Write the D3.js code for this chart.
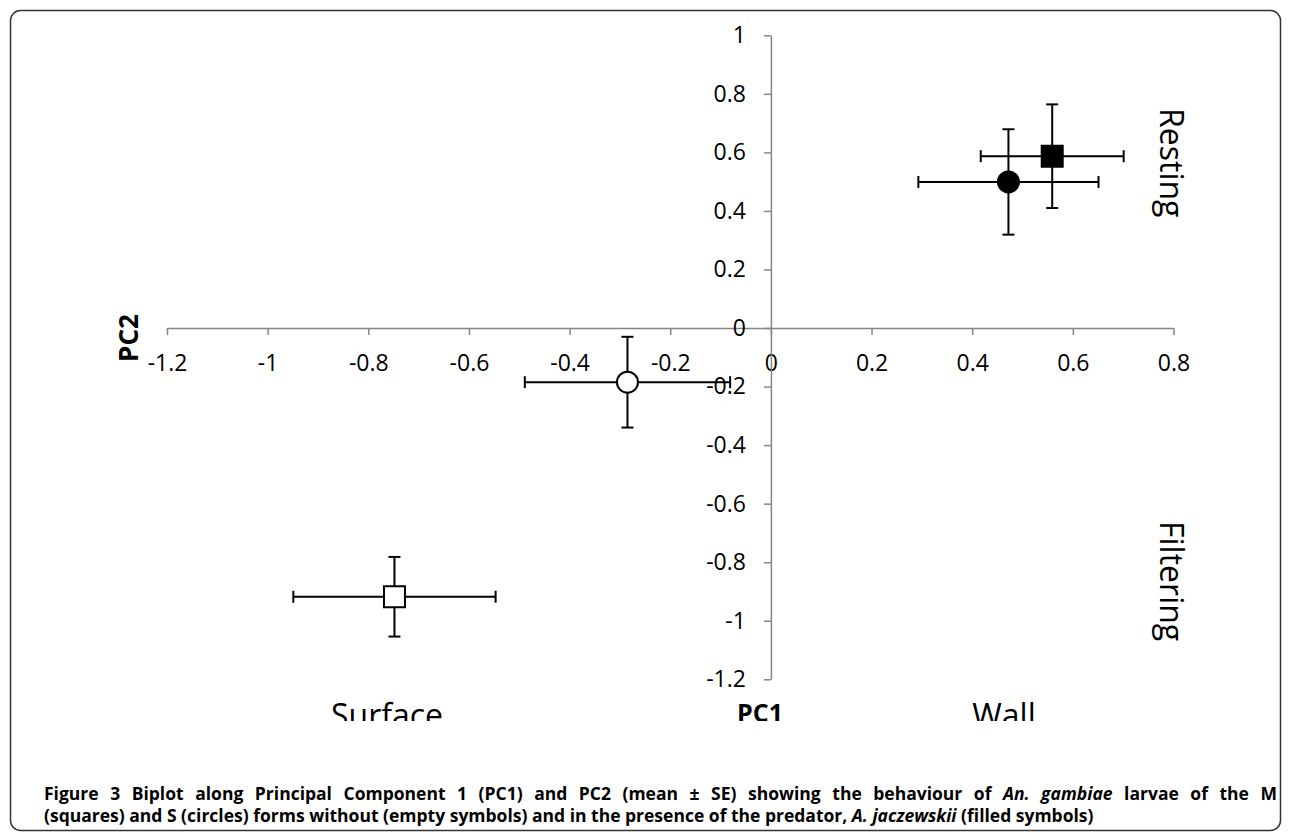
<!DOCTYPE html>
<html>
<head>
<meta charset="utf-8">
<script src="https://cdn.jsdelivr.net/npm/d3@7"></script>
<style>
  body { margin: 0; background: #fff; }
  svg { display: block; }
  text { font-family: 'Open Sans', 'Liberation Sans', sans-serif; fill: #000; }
</style>
</head>
<body>
<svg id="chart" width="1290" height="832"></svg>
<script>
// four groups: M / S form, without and with the predator
const groups = ['M control', 'S control', 'M predator', 'S predator'];
const shapes = ['square', 'circle', 'square', 'circle'];
const filled = [false, false, true, true];
const pc1 = [-0.748, -0.285, 0.559, 0.472];
const pc2 = [-0.918, -0.185, 0.587, 0.499];
const pc1Se = [0.201, 0.204, 0.142, 0.179];
const pc2Se = [0.136, 0.155, 0.177, 0.180];

const xTicks = [-1.2, -1, -0.8, -0.6, -0.4, -0.2, 0, 0.2, 0.4, 0.6, 0.8];
const yTicks = [-1.2, -1, -0.8, -0.6, -0.4, -0.2, 0, 0.2, 0.4, 0.6, 0.8, 1];

const captionLine1 = [
  ['Figure 3 Biplot along Principal Component 1 (PC1) and PC2 (mean \u00b1 SE) showing the behaviour of ', 'normal'],
  ['An. gambiae', 'italic'],
  [' larvae of the M', 'normal'],
];
const captionLine2 = [
  ['(squares) and S (circles) forms without (empty symbols) and in the presence of the predator, ', 'normal'],
  ['A. jaczewskii', 'italic'],
  [' (filled symbols)', 'normal'],
];

const AXIS_GRAY = '#868686';
const svg = d3.select('#chart');

svg.append('rect')
  .attr('x', 10.5).attr('y', 10.5)
  .attr('width', 1270).attr('height', 820)
  .attr('rx', 10)
  .attr('fill', 'none')
  .attr('stroke', '#333')
  .attr('stroke-width', 1.5);

// the chart picture is cut off just under the quadrant labels
svg.append('clipPath').attr('id', 'plot-clip')
  .append('rect').attr('x', 0).attr('y', 0).attr('width', 1290).attr('height', 721);

const plot = svg.append('g').attr('clip-path', 'url(#plot-clip)');

const x = d3.scaleLinear().domain([-1.2, 0.8]).range([167, 1173.5]);
const y = d3.scaleLinear().domain([-1.2, 1]).range([679.3, 35.3]);
const fmt = d => String(+d.toFixed(1));

const xAxis = plot.append('g')
  .attr('transform', `translate(0,${y(0)})`)
  .call(d3.axisBottom(x).tickValues(xTicks).tickFormat(fmt)
    .tickSize(7).tickSizeOuter(0).tickPadding(20));

const yAxis = plot.append('g')
  .attr('transform', `translate(${x(0)},0)`)
  .call(d3.axisLeft(y).tickValues(yTicks).tickFormat(fmt)
    .tickSize(7).tickSizeOuter(0).tickPadding(18));

[xAxis, yAxis].forEach(a => {
  a.select('.domain').attr('stroke', AXIS_GRAY).attr('stroke-width', 1.5);
  a.selectAll('.tick line').attr('stroke', AXIS_GRAY).attr('stroke-width', 1.5);
  a.selectAll('.tick text')
    .attr('fill', '#000')
    .style('font-family', "'Open Sans', sans-serif")
    .style('font-size', '23px');
});

// error bars
const CAP = 6;
const bars = plot.append('g').attr('stroke', '#000').attr('stroke-width', 2).attr('fill', 'none');
groups.forEach((g, i) => {
  const cx = x(pc1[i]);
  const cy = y(pc2[i]);
  const x0 = x(pc1[i] - pc1Se[i]);
  const x1 = x(pc1[i] + pc1Se[i]);
  const y0 = y(pc2[i] - pc2Se[i]);
  const y1 = y(pc2[i] + pc2Se[i]);
  bars.append('line').attr('x1', x0).attr('x2', x1).attr('y1', cy).attr('y2', cy);
  bars.append('line').attr('x1', x0).attr('x2', x0).attr('y1', cy - CAP).attr('y2', cy + CAP);
  bars.append('line').attr('x1', x1).attr('x2', x1).attr('y1', cy - CAP).attr('y2', cy + CAP);
  bars.append('line').attr('x1', cx).attr('x2', cx).attr('y1', y0).attr('y2', y1);
  bars.append('line').attr('x1', cx - CAP).attr('x2', cx + CAP).attr('y1', y0).attr('y2', y0);
  bars.append('line').attr('x1', cx - CAP).attr('x2', cx + CAP).attr('y1', y1).attr('y2', y1);
});

// markers
const symbolType = { square: d3.symbolSquare, circle: d3.symbolCircle };
plot.append('g').selectAll('path.marker')
  .data(groups)
  .join('path')
  .attr('class', 'marker')
  .attr('transform', (d, i) => `translate(${x(pc1[i])},${y(pc2[i])})`)
  .attr('d', (d, i) => d3.symbol(symbolType[shapes[i]], shapes[i] === 'square' ? 21 * 21 : Math.PI * 10.5 * 10.5)())
  .attr('fill', (d, i) => (filled[i] ? '#000' : '#fff'))
  .attr('stroke', '#000')
  .attr('stroke-width', 2);

// axis titles and quadrant labels
plot.append('text')
  .attr('transform', 'translate(138,338) rotate(-90)')
  .attr('text-anchor', 'middle')
  .style('font-size', '26px').style('font-weight', 'bold')
  .text('PC2');

plot.append('text')
  .attr('x', 760).attr('y', 722)
  .attr('text-anchor', 'middle')
  .style('font-size', '25px').style('font-weight', 'bold')
  .text('PC1');

plot.append('text')
  .attr('x', 387).attr('y', 727)
  .attr('text-anchor', 'middle')
  .style('font-size', '32px')
  .text('Surface');

plot.append('text')
  .attr('x', 1004).attr('y', 727)
  .attr('text-anchor', 'middle')
  .style('font-size', '32px')
  .text('Wall');

plot.append('text')
  .attr('transform', 'translate(1160,108) rotate(90)')
  .style('font-size', '32px')
  .text('Resting');

plot.append('text')
  .attr('transform', 'translate(1160,521) rotate(90)')
  .style('font-size', '32px')
  .text('Filtering');

// caption, first line justified to the frame width
function captionLine(parts, yPos, justifyTo) {
  const t = svg.append('text')
    .attr('x', 44).attr('y', yPos)
    .style('font-size', '17.5px').style('font-weight', 'bold');
  parts.forEach(([s, st]) => t.append('tspan').style('font-style', st).text(s));
  if (justifyTo) {
    const len = t.node().getComputedTextLength();
    const spaces = parts.map(p => p[0]).join('').split(' ').length - 1;
    t.style('word-spacing', `${(justifyTo - len) / spaces}px`);
  }
  return t;
}
captionLine(captionLine1, 800, 1233);
captionLine(captionLine2, 822, 0);
</script>
</body>
</html>
